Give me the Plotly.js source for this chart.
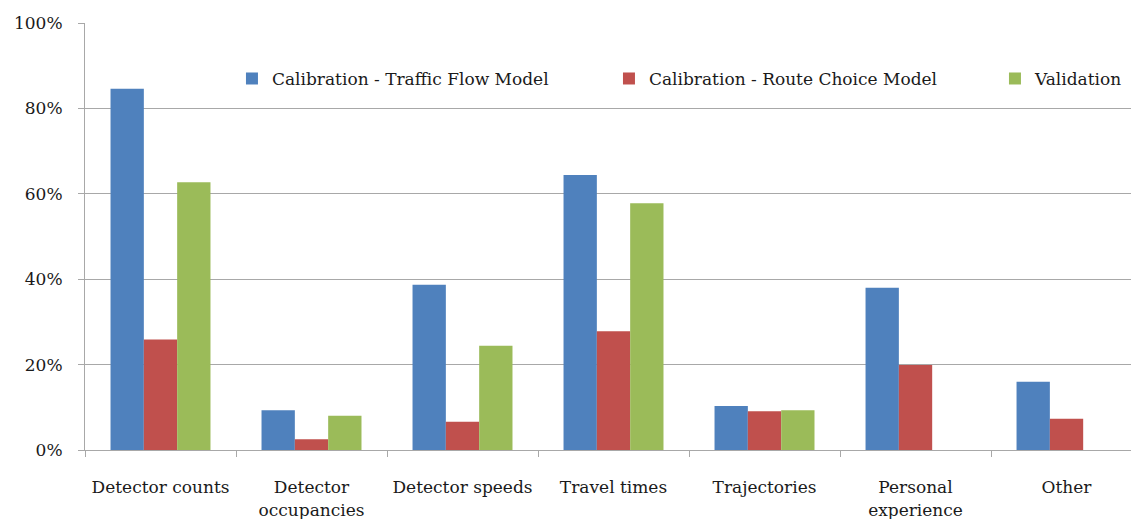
<!DOCTYPE html>
<html>
<head>
<meta charset="utf-8">
<script src="https://cdn.plot.ly/plotly-3.0.1.min.js"></script>
<style>
  html, body { margin: 0; padding: 0; background: #ffffff; }
  #chart { width: 1131px; height: 519px; }
</style>
</head>
<body>
<div id="chart"></div>
<script>
// Categories (x-axis tick labels)
const categories = [
  "Detector counts",
  "Detector<br>occupancies",
  "Detector speeds",
  "Travel times",
  "Trajectories",
  "Personal<br>experience",
  "Other"
];

// Series names
const seriesNames = [
  "Calibration - Traffic Flow Model",
  "Calibration - Route Choice Model",
  "Validation"
];

// Series values (percent)
const calibFlow  = [84.6, 9.3, 38.7, 64.4, 10.3, 38.0, 16.0];
const calibRoute = [25.9, 2.5, 6.6, 27.8, 9.1, 19.9, 7.3];
const validation = [62.7, 8.0, 24.4, 57.8, 9.3, null, null];

// Y tick values and labels
const yTicks = [0, 20, 40, 60, 80, 100];
const yTickLabels = ["0%", "20%", "40%", "60%", "80%", "100%"];

const colors = ["#4F81BD", "#C0504D", "#9BBB59"];
const fontFamily = "DejaVu Serif, Liberation Serif, serif";
const textColor = "#1a1a1a";
const gridColor = "#a8a8a8";

const seriesValues = [calibFlow, calibRoute, validation];
const legendWidths = [332, 341, 110];

const traces = seriesValues.map((vals, i) => ({
  type: "bar",
  name: seriesNames[i],
  x: categories,
  y: vals,
  marker: { color: colors[i], line: { width: 0 } },
  legendwidth: legendWidths[i],
  hoverinfo: "skip"
}));

const layout = {
  width: 1131,
  height: 519,
  margin: { l: 85, r: 0, t: 23, b: 69, pad: 0, autoexpand: false },
  paper_bgcolor: "#ffffff",
  plot_bgcolor: "#ffffff",
  font: { family: fontFamily, size: 17, color: textColor },
  barmode: "group",
  bargap: 0.338,
  bargroupgap: 0,
  showlegend: true,
  legend: {
    orientation: "h",
    x: 0.1405,
    xanchor: "left",
    y: 0.869,
    yanchor: "middle",
    bgcolor: "rgba(0,0,0,0)",
    font: { family: fontFamily, size: 17, color: textColor },
    traceorder: "normal"
  },
  xaxis: {
    type: "category",
    range: [-0.5, 6.427],
    automargin: false,
    tickangle: 0,
    showgrid: false,
    showline: true,
    linecolor: gridColor,
    linewidth: 1,
    ticks: "outside",
    tickson: "boundaries",
    ticklen: 6,
    tickcolor: gridColor,
    tickwidth: 1,
    ticklabelstandoff: 22,
    tickfont: { family: fontFamily, size: 17, color: textColor },
    zeroline: false,
    fixedrange: true
  },
  yaxis: {
    range: [0, 100],
    automargin: false,
    tickmode: "array",
    tickvals: yTicks,
    ticktext: yTickLabels,
    showgrid: true,
    gridcolor: gridColor,
    gridwidth: 1,
    showline: true,
    linecolor: gridColor,
    linewidth: 1,
    ticks: "outside",
    ticklen: 6,
    tickcolor: gridColor,
    tickwidth: 1,
    ticklabelstandoff: 12,
    tickfont: { family: fontFamily, size: 17, color: textColor },
    zeroline: false,
    fixedrange: true
  }
};

Plotly.newPlot("chart", traces, layout, { displayModeBar: false, staticPlot: true });
</script>
</body>
</html>
